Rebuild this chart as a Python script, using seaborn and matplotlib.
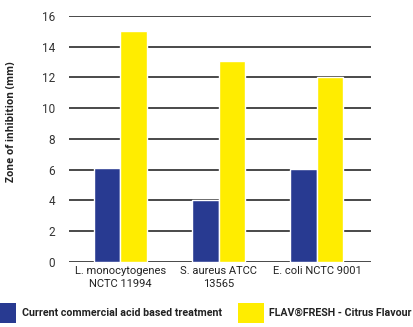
import matplotlib
matplotlib.use("Agg")
import matplotlib.pyplot as plt
import seaborn as sns
import pandas as pd
from matplotlib.patches import Patch

categories = ["L. monocytogenes\nNCTC 11994", "S. aureus ATCC\n13565", "E. coli NCTC 9001"]
series_names = ["Current commercial acid based treatment", "FLAV\u00aeFRESH - Citrus Flavour"]
current_vals = [6.1, 4.0, 6.05]
flav_vals = [15.0, 13.1, 12.0]
yticks = [0, 2, 4, 6, 8, 10, 12, 14, 16]
ylabel = "Zone of inhibition (mm)"

blue = "#283a91"
yellow = "#ffed00"

df = pd.DataFrame({
    "category": categories * 2,
    "series": [series_names[0]] * 3 + [series_names[1]] * 3,
    "value": current_vals + flav_vals,
})

sns.set_theme(style="white")
cond = ["Roboto", "DejaVu Sans"]
plt.rcParams["font.family"] = cond

fig = plt.figure(figsize=(4.14, 3.27), dpi=100)
ax = fig.add_axes([69/414, 65.3/327, (371-69)/414, (311-65.3)/327])

sns.barplot(data=df, x="category", y="value", hue="series",
            palette=[blue, yellow], width=0.54, saturation=1,
            ax=ax, legend=False, zorder=3)

ax.set_ylim(0, 16)
ax.set_xlim(-0.52, 2.55)
ax.set_yticks(yticks)
ax.set_yticklabels([str(t) for t in yticks], fontsize=8.5, color="#333333")
ax.tick_params(axis="x", labelsize=8.0, colors="#222222", length=0, pad=3)
ax.tick_params(axis="y", length=0, pad=10)
for lab in ax.get_xticklabels():
    lab.set_linespacing(1.35)
ax.set_xlabel("")
ax.set_ylabel("")
for s in ax.spines.values():
    s.set_visible(False)
for t in yticks:
    ax.axhline(t, color="#3a3a3a", lw=1.3, zorder=1)

fig.text(12/414, 1 - 122/327, ylabel, rotation=90, ha="center", va="center",
         fontsize=7.4, fontweight="bold", family=["Open Sans", "DejaVu Sans"], color="#222222")

handles = [Patch(facecolor=blue, edgecolor="none"), Patch(facecolor=yellow, edgecolor="none")]
leg = fig.legend(handles, series_names, loc="center left",
                 bbox_to_anchor=(-10/414, 1 - 313/327), ncol=2, frameon=False,
                 handlelength=2.45, handleheight=2.45, handletextpad=0.5,
                 columnspacing=1.5, borderaxespad=0, borderpad=0,
                 prop={"family": cond, "weight": "bold", "size": 7.7})
for t in leg.get_texts():
    t.set_color("#222222")

fig.savefig("out.png", dpi=100)
